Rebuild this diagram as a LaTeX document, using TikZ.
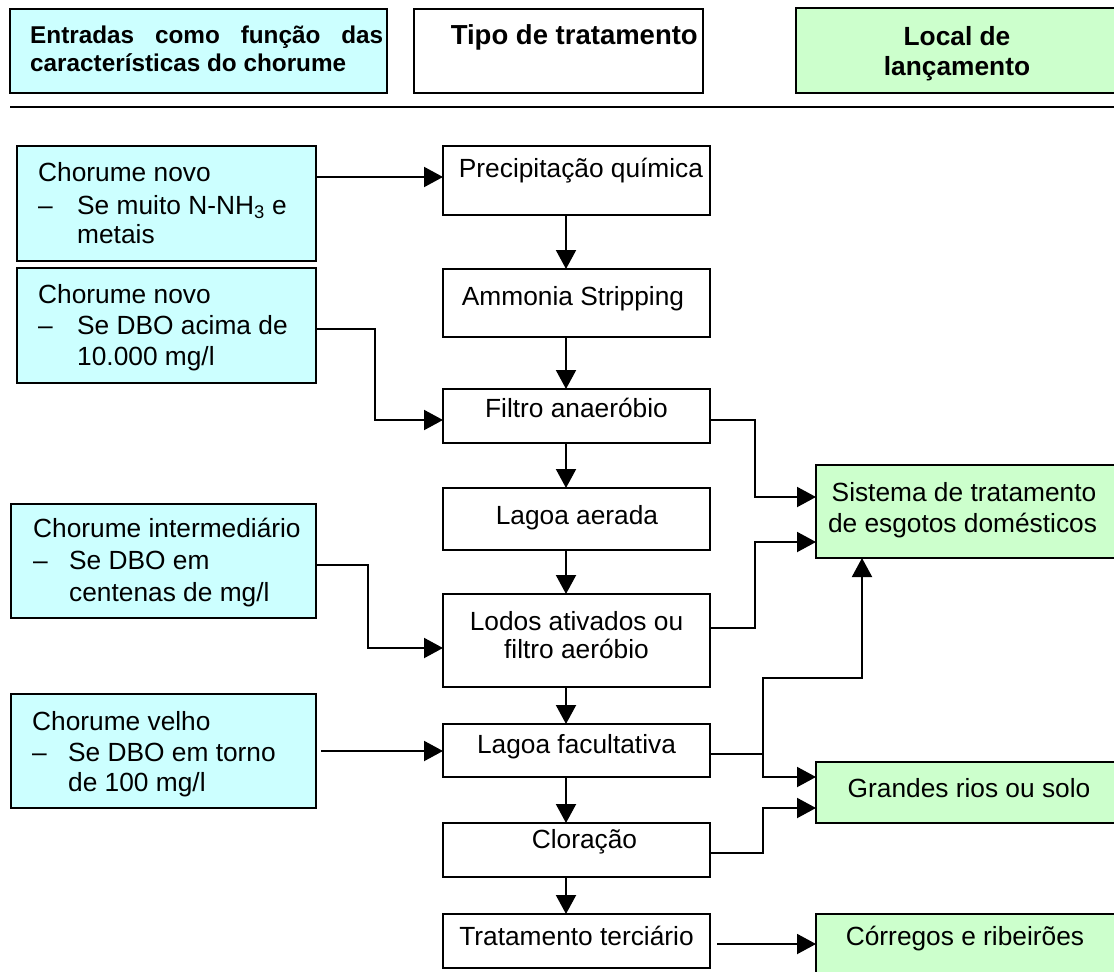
\documentclass[tikz,border=0pt]{standalone}
\usepackage{fontspec}
\setmainfont{Liberation Sans}
\usetikzlibrary{arrows.meta}
\definecolor{cyanfill}{HTML}{CCFFFF}
\definecolor{greenfill}{HTML}{CCFFCC}
\begin{document}
\begin{tikzpicture}[x=1pt,y=-1pt,
  bx/.style={draw, line width=1.8pt, anchor=north west, inner sep=0pt, outer sep=0pt},
  cbox/.style={bx, fill=cyanfill},
  gbox/.style={bx, fill=greenfill},
  txt/.style={inner sep=0pt, anchor=base, font=\fontsize{26.3}{31}\selectfont},
  ltxt/.style={txt, anchor=base west},
  htxt/.style={inner sep=0pt, anchor=base, font=\bfseries\fontsize{26.3}{31}\selectfont},
  hstxt/.style={htxt, anchor=base west, font=\bfseries\fontsize{24.3}{29}\selectfont},
  conn/.style={line width=2pt},
  arr/.style={conn, -{Triangle[length=19pt,width=20pt]}}]
\useasboundingbox (0,0) rectangle (1114,972);
\clip (0,0) rectangle (1114,972);
% header
\node[cbox, minimum width=377pt, minimum height=84pt] (h1) at (10,9) {};
\node[bx, minimum width=289pt, minimum height=84pt] (h2) at (414,9) {};
\node[gbox, minimum width=322pt, minimum height=85pt] (h3) at (796,8) {};
\node[hstxt] (h1a) at (30,43) {\hbox to 353pt{Entradas\hfill como\hfill função\hfill das}};
\node[hstxt] (h1b) at (30,71) {características do chorume};
\node[htxt, anchor=base east, font=\bfseries\fontsize{27.5}{31}\selectfont] (h2a) at (698,44) {Tipo de tratamento};
\node[htxt] (h3a) at (957,45) {Local de};
\node[htxt] (h3b) at (957,75) {lançamento};
\draw[line width=2pt] (10,107) -- (1114,107);
% left boxes
\node[cbox, minimum width=299pt, minimum height=115pt] (c1) at (17,146) {};
\node[cbox, minimum width=299pt, minimum height=115pt] (c2) at (17,268) {};
\node[cbox, minimum width=305pt, minimum height=114pt] (c3) at (11,504) {};
\node[cbox, minimum width=305pt, minimum height=114pt] (c4) at (11,694) {};
\node[ltxt] (c1a) at (38,181) {Chorume novo};
\node[ltxt] (c1b) at (38,214) {–};
\node[ltxt] (c1c) at (77,214) {Se muito N-NH\textsubscript{3} e};
\node[ltxt] (c1d) at (77,243) {metais};
\node[ltxt] (c2a) at (38,303) {Chorume novo};
\node[ltxt] (c2b) at (38,334) {–};
\node[ltxt] (c2c) at (77,334) {Se DBO acima de};
\node[ltxt] (c2d) at (77,365) {10.000 mg/l};
\node[ltxt] (c3a) at (33,537) {Chorume intermediário};
\node[ltxt] (c3b) at (33,569) {–};
\node[ltxt] (c3c) at (69,569) {Se DBO em};
\node[ltxt] (c3d) at (69,601) {centenas de mg/l};
\node[ltxt] (c4a) at (32,730) {Chorume velho};
\node[ltxt] (c4b) at (32,761) {–};
\node[ltxt] (c4c) at (68,761) {Se DBO em torno};
\node[ltxt] (c4d) at (68,791) {de 100 mg/l};
% centre boxes
\node[bx, minimum width=267pt, minimum height=69pt] (p1) at (443,146) {};
\node[bx, minimum width=267pt, minimum height=68pt] (p2) at (443,269) {};
\node[bx, minimum width=267pt, minimum height=54pt] (p3) at (443,389) {};
\node[bx, minimum width=267pt, minimum height=62pt] (p4) at (443,488) {};
\node[bx, minimum width=267pt, minimum height=93pt] (p5) at (443,594) {};
\node[bx, minimum width=267pt, minimum height=53pt] (p6) at (443,724) {};
\node[bx, minimum width=267pt, minimum height=54pt] (p7) at (443,823) {};
\node[bx, minimum width=267pt, minimum height=54pt] (p8) at (443,914) {};
\node[txt] (p1t) at (581,177) {Precipitação química};
\node[txt] (p2t) at (573,305) {Ammonia Stripping};
\node[txt] (p3t) at (576.5,417) {Filtro anaeróbio};
\node[txt] (p4t) at (577,524) {Lagoa aerada};
\node[txt] (p5t) at (576.5,630) {Lodos ativados ou};
\node[txt] (p5u) at (576.5,658) {filtro aeróbio};
\node[txt] (p6t) at (576.5,753) {Lagoa facultativa};
\node[txt] (p7t) at (584.5,848) {Cloração};
\node[txt] (p8t) at (576.5,945) {Tratamento terciário};
% right boxes
\node[gbox, minimum width=302pt, minimum height=93pt] (g1) at (816,465) {};
\node[gbox, minimum width=302pt, minimum height=61pt] (g2) at (816,762) {};
\node[gbox, minimum width=302pt, minimum height=80pt] (g3) at (816,914) {};
\node[txt] (g1t) at (964,501) {Sistema de tratamento};
\node[txt] (g1u) at (962.5,532) {de esgotos domésticos};
\node[txt] (g2t) at (969,797) {Grandes rios ou solo};
\node[txt] (g3t) at (965,945) {Córregos e ribeirões};
% vertical flow
\foreach \a/\b in {p1/p2,p2/p3,p3/p4,p4/p5,p5/p6,p6/p7,p7/p8}
  \draw[arr] ([xshift=-10.5pt]\a.south) -- ([xshift=-10.5pt]\b.north);
% inputs
\coordinate (p1in) at ([yshift=3.5pt]p1.west);
\draw[arr] (c1.east |- p1in) -- (p1in);
\draw[arr] ([yshift=-3.5pt]c2.east) -- ++(59,0) |- ([yshift=-4pt]p3.west);
\draw[arr] ([yshift=-4pt]c3.east) -- ++(52,0) |- ([yshift=-7.5pt]p5.west);
\draw[arr, shorten <=5pt] (c4.east) -- (p6.west |- c4.east);
% outputs
\draw[arr] ([yshift=-4pt]p3.east) -- ++(45,0) |- ([yshift=14.5pt]g1.west);
\draw[arr] ([yshift=12.5pt]p5.east) -- ++(45,0) |- ([yshift=-30.5pt]g1.west);
\draw[conn] ([yshift=-3.5pt]p6.east) -- ++(53,0) coordinate (j6);
\draw[arr] (j6) -- ++(0,-76) -| ([xshift=46pt]g1.south west);
\draw[arr] (j6) |- ([yshift=15.5pt]g2.west);
\draw[arr] ([yshift=-3pt]p7.east) -- ++(53,0) |- ([yshift=-15.5pt]g2.west);
\coordinate (p8out) at ([yshift=-3pt]p8.east);
\draw[arr, shorten <=7pt] (p8out) -- (g3.west |- p8out);
\end{tikzpicture}
\end{document}
